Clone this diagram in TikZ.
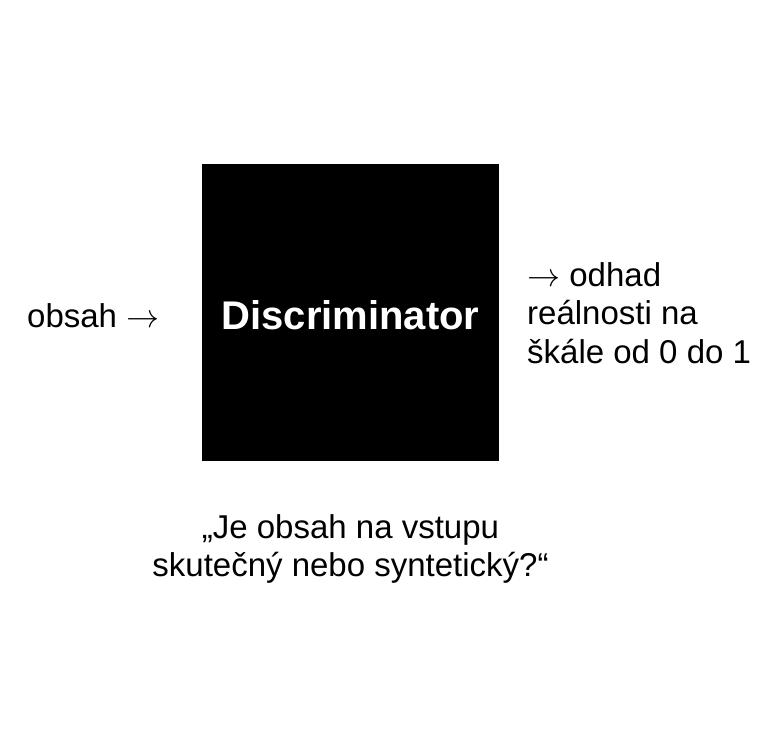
\RequirePackage{fix-cm}
\documentclass[tikz,border=0pt]{standalone}
\usepackage{fontspec}
\setmainfont{Liberation Sans}
\usepackage{tikz}

\newcommand{\sipka}{$\rightarrow$}

\tikzset{
  popis/.style={font=\fontsize{33}{38.5}\selectfont, inner sep=0pt},
  blok/.style={fill=black, text=white, minimum size=297pt, inner sep=0pt,
    font=\fontsize{40}{44}\selectfont\bfseries}
}

\begin{document}
\begin{tikzpicture}[x=1pt, y=-1pt]

% --- canvas (pixels from top-left) ---
\useasboundingbox (0,0) rectangle (776,750);

% the discriminator box
\node[blok] (disc) at (350.5,312) {};
\node[blok, fill=none, minimum size=0pt, anchor=base] (nazev) at (350.5,329) {Discriminator};

% input / output text
\node[popis, anchor=base west] (vstup) at (27,327) {obsah \sipka};
\node[popis, anchor=west, align=left] (vystup) at (527,313)
  {\sipka{} odhad\\reálnosti na\\škále od 0 do 1};

% question below
\node[popis, anchor=north, align=center] (otazka) at (350.5,514)
  {„Je obsah na vstupu\\skutečný nebo syntetický?“};

\end{tikzpicture}
\end{document}
